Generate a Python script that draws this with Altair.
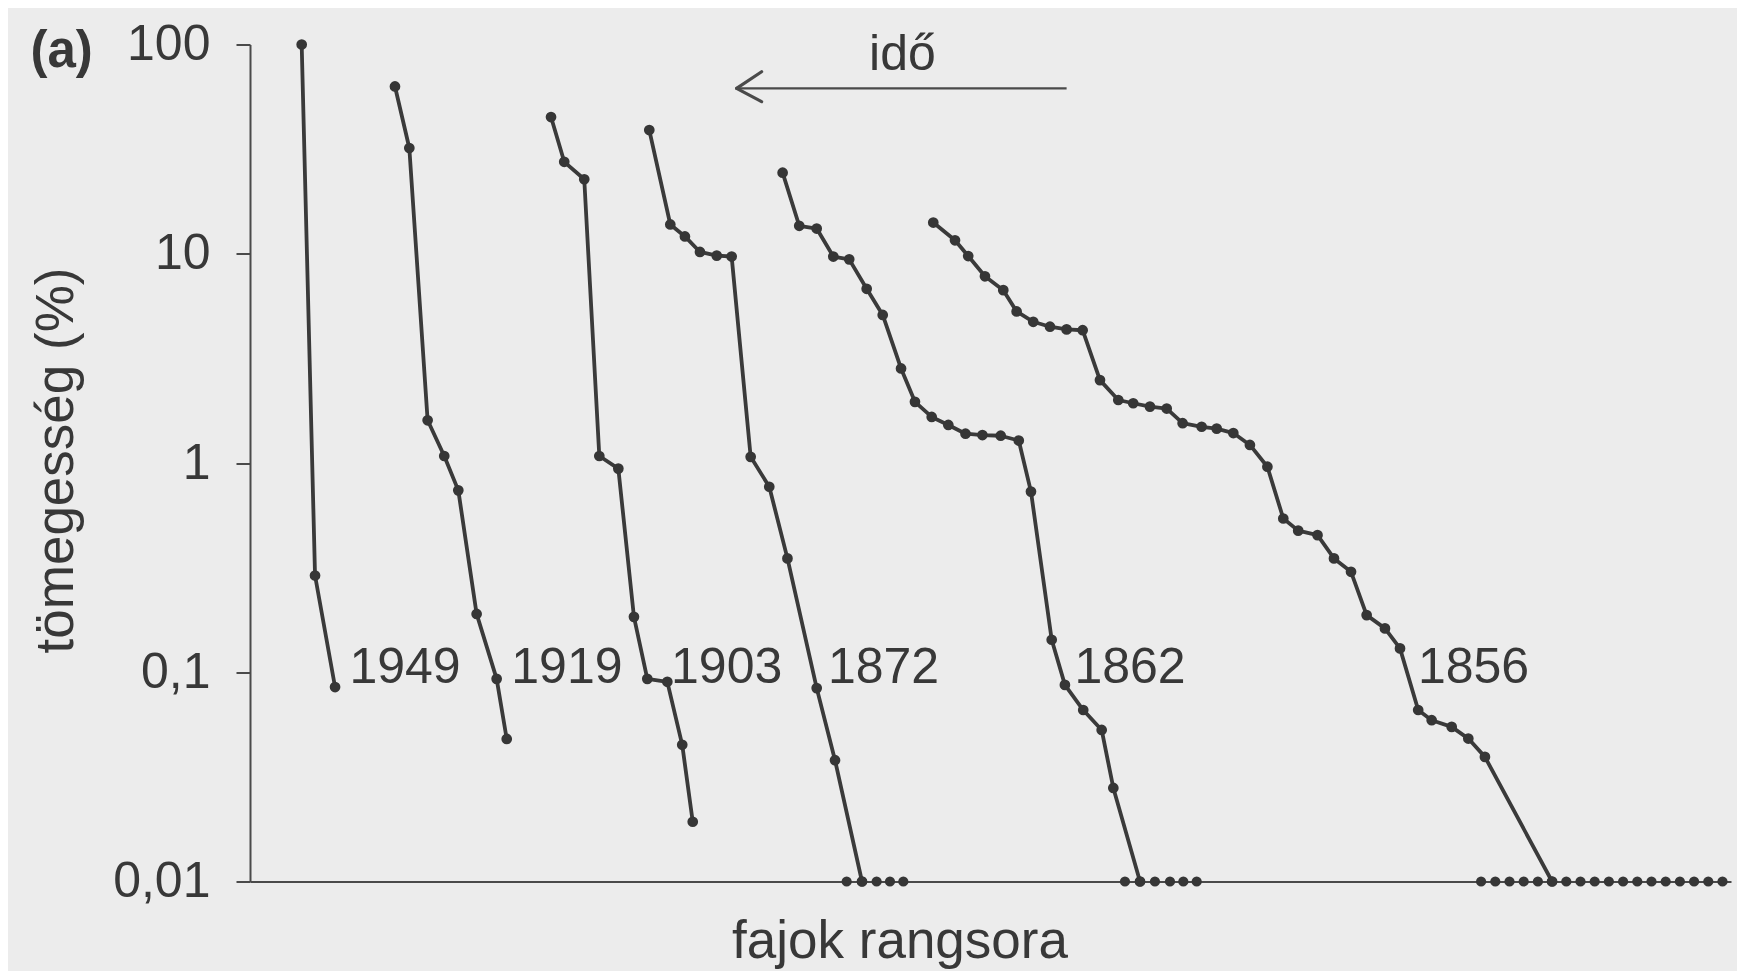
import altair as alt
import pandas as pd

# ---- data: (rank position, abundance %) ----
series_names = ["1949", "1919", "1903", "1872", "1862", "1856"]

rank_1949 = [3.64, 4.58, 5.99]
abund_1949 = [100, 0.29, 0.085]

rank_1919 = [10.21, 11.22, 12.51, 13.68, 14.67, 15.96, 17.37, 18.08]
abund_1919 = [63, 32, 1.6, 1.08, 0.74, 0.19, 0.093, 0.048]

rank_1903 = [21.20, 22.13, 23.54, 24.60, 25.94, 27.04, 27.98, 29.39, 30.44, 31.18]
abund_1903 = [45, 27.5, 22.7, 1.08, 0.94, 0.184, 0.093, 0.09, 0.045, 0.0193]

rank_1872 = [28.12, 29.60, 30.63, 31.69, 32.87, 33.92, 35.26, 36.57, 37.85, 39.91, 41.20, 43.10]
abund_1872 = [39, 13.8, 12.1, 10.2, 9.8, 9.7, 1.07, 0.77, 0.35, 0.084, 0.038, 0.01]

rank_1862 = [37.51, 38.68, 39.91, 41.08, 42.20, 43.43, 44.56, 45.85, 46.83, 48.01, 49.18,
             50.39, 51.58, 52.87, 54.14, 55.00, 56.46, 57.39, 58.68, 59.98, 60.80, 62.68]
abund_1862 = [24.4, 13.6, 13.2, 9.7, 9.4, 6.8, 5.1, 2.83, 1.96, 1.66, 1.52,
              1.38, 1.36, 1.35, 1.28, 0.73, 0.143, 0.087, 0.066, 0.053, 0.028, 0.01]

rank_1856 = [48.12, 49.65, 50.58, 51.76, 53.05, 53.99, 55.16, 56.34, 57.51, 58.64, 59.86,
             61.15, 62.20, 63.38, 64.56, 65.68, 67.02, 68.08, 69.25, 70.42, 71.65, 72.77,
             73.82, 75.18, 76.34, 77.54, 78.64, 79.93, 80.99, 82.27, 83.22, 84.63, 85.80,
             86.97, 91.70]
abund_1856 = [14.1, 11.6, 9.75, 7.8, 6.7, 5.3, 4.73, 4.48, 4.35, 4.31, 2.49,
              2.0, 1.93, 1.86, 1.82, 1.55, 1.49, 1.46, 1.39, 1.22, 0.96, 0.543,
              0.475, 0.452, 0.35, 0.302, 0.1875, 0.162, 0.130, 0.066, 0.059, 0.0548, 0.0482,
              0.0394, 0.01]

# species plotted on the lower limit (0,01 %)
floor_rank_1872 = [42.02, 43.10, 44.13, 45.07, 46.01]
floor_rank_1862 = [61.62, 62.68, 63.73, 64.79, 65.73, 66.67]
floor_rank_1856 = [86.7, 87.7, 88.7, 89.7, 90.7, 91.7, 92.7, 93.7, 94.7, 95.7,
                   96.7, 97.7, 98.7, 99.7, 100.7, 101.7, 102.7, 103.7]
floor_value = 0.01

# year labels (left edge rank position, baseline value)
label_text = ["1949", "1919", "1903", "1872", "1862", "1856"]
label_rank = [7.0, 18.4, 29.65, 40.7, 58.06, 82.25]
label_value = [0.0887] * 6

# axis tick values
y_ticks = [0.01, 0.1, 1, 10, 100]

# annotations: "idő" arrow, panel tag
arrow_rank = [57.51, 34.27]      # shaft start (right) -> tip (left)
arrow_value = 61.7
arrow_arm_rank = 36.03
arrow_arm_values = [74.1, 53.3]
ido_rank, ido_value = 45.95, 75.5
tag_rank, tag_value = -15.46, 78.3

# ---- tables ----
ranks = [rank_1949, rank_1919, rank_1903, rank_1872, rank_1862, rank_1856]
abunds = [abund_1949, abund_1919, abund_1903, abund_1872, abund_1862, abund_1856]
rows = []
for name, rr, aa in zip(series_names, ranks, abunds):
    for r, a in zip(rr, aa):
        rows.append({"series": name, "x": r, "y": a})
curves = pd.DataFrame(rows)

floor_rows = []
for name, rr in zip(["1872", "1862", "1856"], [floor_rank_1872, floor_rank_1862, floor_rank_1856]):
    for r in rr:
        floor_rows.append({"series": name, "x": r, "y": floor_value})
floor = pd.DataFrame(floor_rows)

labels = pd.DataFrame({"x": label_rank, "y": label_value, "text": label_text})

shaft = pd.DataFrame({"x": [arrow_rank[0]], "x2": [arrow_rank[1]],
                      "y": [arrow_value], "y2": [arrow_value]})
arms = pd.DataFrame({
    "x": [arrow_rank[1], arrow_rank[1]],
    "x2": [arrow_arm_rank, arrow_arm_rank],
    "y": [arrow_value, arrow_value],
    "y2": [arrow_arm_values[0], arrow_arm_values[1]],
})
ido = pd.DataFrame({"x": [ido_rank], "y": [ido_value], "text": ["idő"]})
tag = pd.DataFrame({"x": [tag_rank], "y": [tag_value], "text": ["(a)"]})

FONT = "Liberation Sans"
INK = "#383838"

x_enc = alt.X(
    "x:Q",
    scale=alt.Scale(domain=[0, 104.3], nice=False, zero=False),
    axis=alt.Axis(
        title="fajok rangsora", ticks=False, labels=False, grid=False,
        domainColor="#4a4a4a", domainWidth=2,
        titleFont=FONT, titleFontSize=53, titleFontWeight="normal", titleColor=INK,
        titleX=649.5, titleY=75.5, titleAlign="center", titleBaseline="alphabetic",
    ),
)
y_enc = alt.Y(
    "y:Q",
    scale=alt.Scale(type="log", domain=[0.01, 100], nice=False),
    axis=alt.Axis(
        title="tömegesség (%)", values=y_ticks, grid=False,
        labelExpr="replace(toString(datum.value), '.', ',')",
        labelFont=FONT, labelFontSize=50, labelColor=INK, labelPadding=26,
        labelOverlap=False, labelFlush=False,
        tickSize=14, tickWidth=2, tickColor="#4a4a4a",
        domainColor="#4a4a4a", domainWidth=2,
        titleFont=FONT, titleFontSize=53, titleFontWeight="normal", titleColor=INK,
        titleX=-178, titleY=415.5, titleAlign="center", titleBaseline="alphabetic",
        titleAngle=270,
    ),
)

lines = alt.Chart(curves).mark_line(color="#3a3a3a", strokeWidth=3.8, strokeJoin="round").encode(
    x=x_enc, y=y_enc, detail="series:N"
)
dots = alt.Chart(curves).mark_circle(color="#363636", size=115, opacity=1).encode(x=x_enc, y=y_enc)
floor_dots = alt.Chart(floor).mark_circle(color="#363636", size=105, opacity=1).encode(x=x_enc, y=y_enc)

year_labels = alt.Chart(labels).mark_text(
    align="left", baseline="alphabetic", font=FONT, fontSize=50, color=INK
).encode(x=x_enc, y=y_enc, text="text:N")

shaft_mark = alt.Chart(shaft).mark_rule(color="#4a4a4a", strokeWidth=2.2).encode(
    x=x_enc, y=y_enc, x2="x2:Q", y2="y2:Q"
)
arm_marks = alt.Chart(arms).mark_rule(color="#4a4a4a", strokeWidth=3.2, strokeCap="round").encode(
    x=x_enc, y=y_enc, x2="x2:Q", y2="y2:Q"
)
ido_text = alt.Chart(ido).mark_text(
    align="center", baseline="alphabetic", font=FONT, fontSize=50, color=INK
).encode(x=x_enc, y=y_enc, text="text:N")
tag_text = alt.Chart(tag).mark_text(
    align="left", baseline="alphabetic", font=FONT, fontSize=51, fontWeight="bold", color=INK
).encode(x=x_enc, y=y_enc, text="text:N")

chart = alt.layer(
    lines, dots, floor_dots, year_labels, shaft_mark, arm_marks, ido_text, tag_text
).properties(
    width=1481, height=837,
    autosize=alt.AutoSizeParams(type="none"),
    padding={"left": 242, "top": 36.5, "right": 6, "bottom": 89},
    background="#ececec",
).configure_view(stroke=None)

chart.save("out.html", embed_options={"renderer": "svg", "actions": False})
